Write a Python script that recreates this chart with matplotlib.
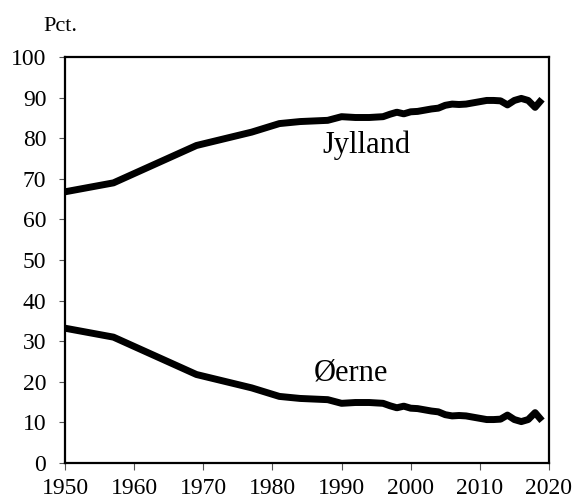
import matplotlib.pyplot as plt

# Share of population (pct.)
years = [1950, 1957, 1969, 1977, 1981, 1984, 1988, 1990, 1991, 1992, 1993, 1994,
         1995, 1996, 1997, 1998, 1999, 2000, 2001, 2002, 2003, 2004, 2005, 2006,
         2007, 2008, 2009, 2010, 2011, 2012, 2013, 2014, 2015, 2016, 2017, 2018, 2019]
jylland = [66.8, 69.0, 78.2, 81.5, 83.6, 84.1, 84.4, 85.3, 85.2, 85.1, 85.1, 85.1,
           85.2, 85.3, 85.9, 86.4, 86.0, 86.5, 86.6, 86.9, 87.2, 87.4, 88.1, 88.4,
           88.3, 88.4, 88.7, 89.0, 89.3, 89.3, 89.2, 88.2, 89.3, 89.8, 89.3, 87.6, 89.6]
oerne = [33.2, 31.0, 21.8, 18.5, 16.4, 15.9, 15.6, 14.7, 14.8, 14.9, 14.9, 14.9,
         14.8, 14.7, 14.1, 13.6, 14.0, 13.5, 13.4, 13.1, 12.8, 12.6, 11.9, 11.6,
         11.7, 11.6, 11.3, 11.0, 10.7, 10.7, 10.8, 11.8, 10.7, 10.2, 10.7, 12.4, 10.4]

yticks = list(range(0, 101, 10))
xticks = list(range(1950, 2021, 10))

plt.rcParams['font.family'] = ['Liberation Serif', 'DejaVu Serif']

fig = plt.figure(figsize=(5.76, 5.0), dpi=100)
ax = fig.add_axes([0.113, 0.074, 0.840, 0.812])

ax.plot(years, jylland, color='black', lw=5, solid_joinstyle='round', solid_capstyle='butt')
ax.plot(years, oerne, color='black', lw=5, solid_joinstyle='round', solid_capstyle='butt')

ax.set_xlim(1950, 2020)
ax.set_ylim(0, 100)
ax.set_xticks(xticks)
ax.set_yticks(yticks)
ax.tick_params(axis='both', labelsize=17, width=0.8, color='#555555')
ax.tick_params(axis='y', length=4.5, pad=9)
ax.tick_params(axis='x', length=5, pad=6)
for s in ax.spines.values():
    s.set_linewidth(1.6)

ax.text(1987.2, 76.4, 'Jylland', fontsize=22, ha='left', va='baseline')
ax.text(1986.0, 20.2, 'Øerne', fontsize=22, ha='left', va='baseline')

fig.text(43 / 576, 1 - 31 / 500, 'Pct.', fontsize=16, ha='left', va='baseline')

fig.savefig('out.png', dpi=100)
